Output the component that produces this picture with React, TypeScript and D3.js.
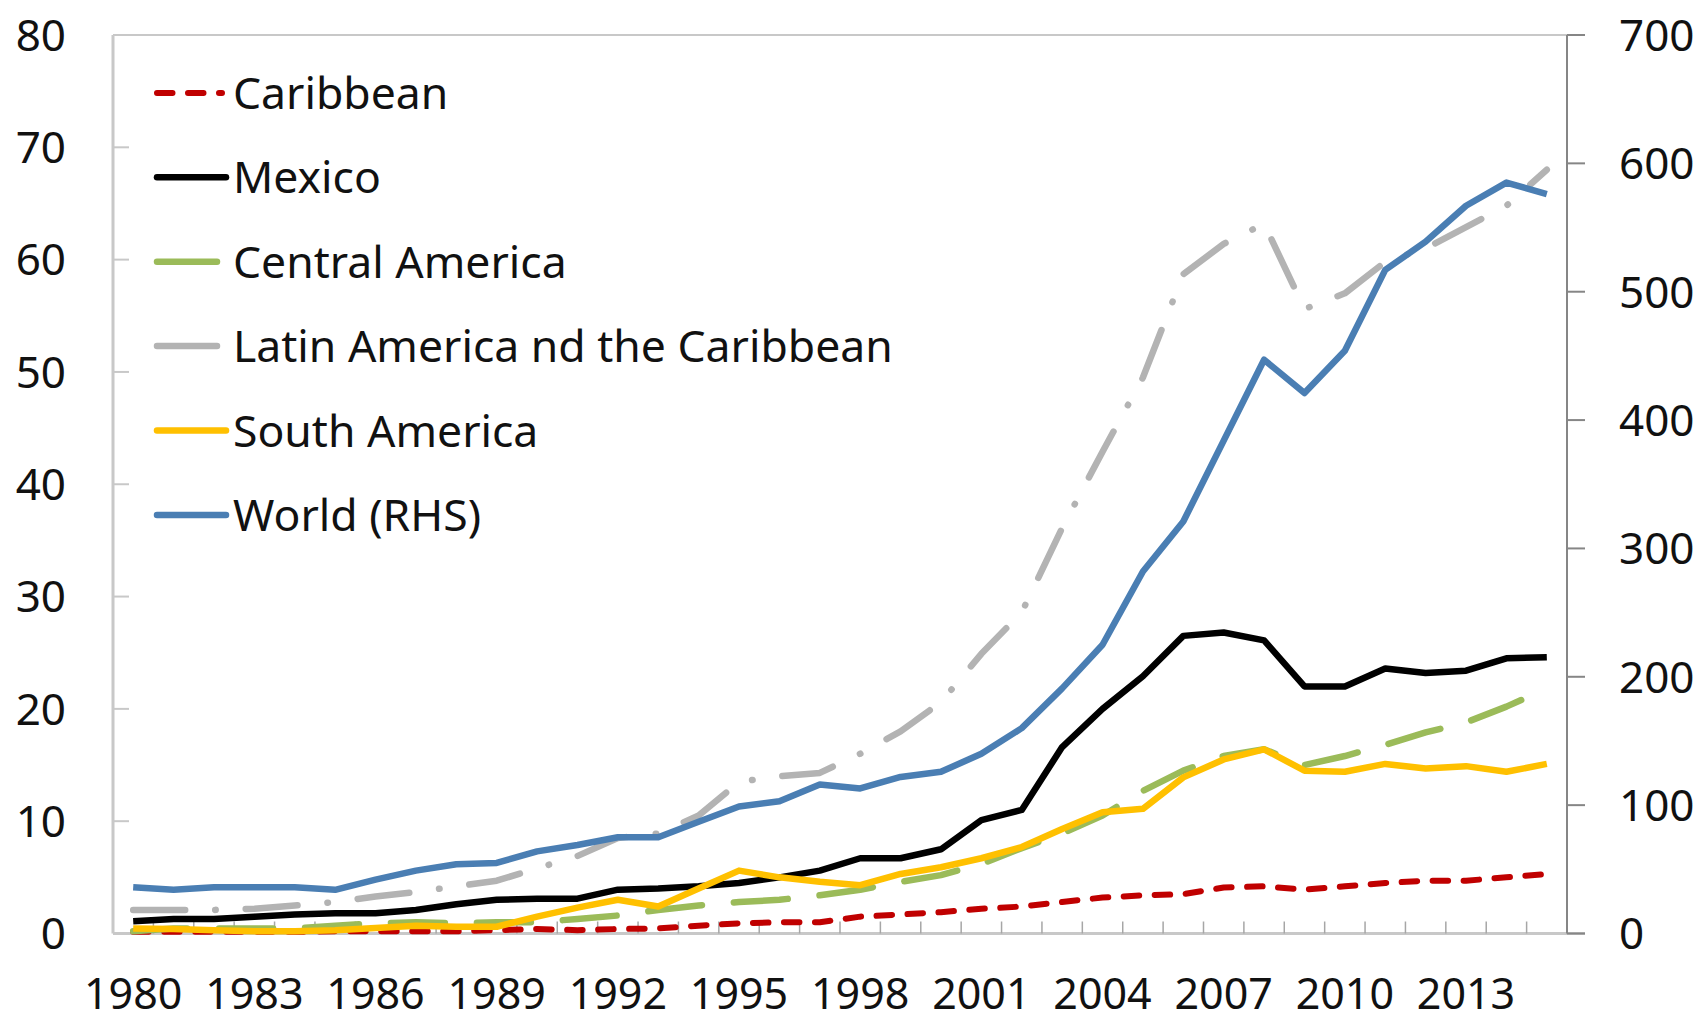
import React from 'react';
import * as d3 from 'd3';

// categories
const years = [
  '1980', '1981', '1982', '1983', '1984', '1985', '1986', '1987', '1988', '1989',
  '1990', '1991', '1992', '1993', '1994', '1995', '1996', '1997', '1998', '1999',
  '2000', '2001', '2002', '2003', '2004', '2005', '2006', '2007', '2008', '2009',
  '2010', '2011', '2012', '2013', '2014', '2015',
];
const yearLabels = ['1980', '1983', '1986', '1989', '1992', '1995', '1998', '2001', '2004', '2007', '2010', '2013'];

// series values (left axis unless noted)
const caribbean = [
  0.15, 0.15, 0.15, 0.15, 0.15, 0.2, 0.2, 0.2, 0.2, 0.3,
  0.4, 0.3, 0.4, 0.45, 0.7, 0.9, 1.0, 1.0, 1.5, 1.7,
  1.9, 2.2, 2.4, 2.8, 3.2, 3.4, 3.5, 4.1, 4.2, 3.9,
  4.2, 4.5, 4.7, 4.7, 5.0, 5.3,
];
const mexico = [
  1.1, 1.3, 1.3, 1.5, 1.7, 1.8, 1.8, 2.1, 2.6, 3.0,
  3.1, 3.1, 3.9, 4.0, 4.2, 4.5, 5.0, 5.6, 6.7, 6.7,
  7.5, 10.1, 11.0, 16.6, 20.0, 22.9, 26.5, 26.8, 26.1, 22.0,
  22.0, 23.6, 23.2, 23.4, 24.5, 24.6,
];
const centralAmerica = [
  0.2, 0.45, 0.45, 0.45, 0.45, 0.7, 0.9, 1.0, 0.9, 1.0,
  1.0, 1.3, 1.6, 2.1, 2.5, 2.8, 3.0, 3.4, 3.9, 4.6,
  5.2, 6.2, 7.6, 8.9, 10.5, 12.7, 14.5, 15.8, 16.4, 15.0,
  15.8, 16.8, 17.9, 18.8, 20.2, 21.8,
];
const latinAmerica = [
  2.1, 2.1, 2.1, 2.2, 2.5, 2.8, 3.3, 3.7, 4.2, 4.7,
  5.8, 6.9, 8.5, 8.9, 10.5, 13.5, 14.0, 14.3, 16.0, 18.0,
  20.6, 24.9, 28.6, 36.1, 42.9, 49.5, 58.7, 61.4, 63.2, 55.6,
  57.0, 59.8, 61.0, 62.9, 64.8, 68.0,
];
const southAmerica = [
  0.45, 0.4, 0.3, 0.2, 0.2, 0.3, 0.5, 0.7, 0.6, 0.6,
  1.5, 2.3, 3.0, 2.4, 4.0, 5.6, 5.0, 4.6, 4.3, 5.3,
  5.9, 6.7, 7.7, 9.3, 10.8, 11.1, 13.9, 15.5, 16.4, 14.5,
  14.4, 15.1, 14.7, 14.9, 14.4, 15.1,
];
// right axis
const world = [
  36, 34, 36, 36, 36, 34, 42, 49, 54, 55,
  64, 69, 75, 75, 87, 99, 103, 116, 113, 122,
  126, 140, 160, 191, 225, 282, 321, 384, 447, 421,
  454, 517, 539, 567, 585, 576,
];

const W = 1698;
const H = 1023;
const left = 113;
const right = 1567;
const top = 35;
const bottom = 933.5;
const font = '"Noto Sans", "Open Sans", sans-serif';

const series = [
  { name: 'Caribbean', values: caribbean, rhs: false, color: '#c00000', width: 6, dash: '15.5 15.5', legendLen: 67 },
  { name: 'Mexico', values: mexico, rhs: false, color: '#000000', width: 6.5, dash: null, legendLen: 71 },
  { name: 'Central America', values: centralAmerica, rhs: false, color: '#9bbb59', width: 6.5, dash: '54 32', legendLen: 62 },
  { name: 'Latin America nd the Caribbean', values: latinAmerica, rhs: false, color: '#b3b3b3', width: 6.5, dash: '52 30 0.5 30', legendLen: 62 },
  { name: 'South America', values: southAmerica, rhs: false, color: '#ffc000', width: 6.5, dash: null, legendLen: 71 },
  { name: 'World (RHS)', values: world, rhs: true, color: '#4a7eb3', width: 6.5, dash: null, legendLen: 71 },
];

export default function App() {
  const x = d3.scaleBand().domain(years).range([left, right]);
  const yL = d3.scaleLinear().domain([0, 80]).range([bottom, top]);
  const yR = d3.scaleLinear().domain([0, 700]).range([bottom, top]);
  const cx = (i: number) => (x(years[i]) as number) + x.bandwidth() / 2;

  const boundaries = years.map((y) => x(y) as number).slice(1);

  return (
    <svg width={W} height={H} style={{ position: 'absolute', left: 0, top: 0, background: '#fff' }}>
      <rect x={0} y={0} width={W} height={H} fill="#fff" />

      {/* frame */}
      <line x1={left} x2={right} y1={top} y2={top} stroke="#c8c8c8" strokeWidth={2} />
      <line x1={left} x2={left} y1={top} y2={bottom} stroke="#c8c8c8" strokeWidth={3} />
      <line x1={left} x2={right + 18} y1={bottom} y2={bottom} stroke="#c8c8c8" strokeWidth={3} />
      <line x1={right} x2={right} y1={top} y2={bottom} stroke="#868686" strokeWidth={2} />

      {/* bottom ticks */}
      {boundaries.map((b, i) => (
        <line key={i} x1={b} x2={b} y1={bottom} y2={bottom - 12} stroke="#a6a6a6" strokeWidth={1.5} />
      ))}

      {/* left axis */}
      {yL.ticks(8).map((t) => (
        <g key={t}>
          <line x1={left} x2={left + 16} y1={yL(t)} y2={yL(t)} stroke="#c8c8c8" strokeWidth={2} />
          <text x={66} y={yL(t)} dy="0.36em" textAnchor="end" fontFamily={font} fontSize={44} fill="#111">
            {t}
          </text>
        </g>
      ))}

      {/* right axis */}
      {yR.ticks(7).map((t) => (
        <g key={t}>
          <line x1={right} x2={right + 18} y1={yR(t)} y2={yR(t)} stroke="#868686" strokeWidth={2} />
          <text x={1619} y={yR(t)} dy="0.36em" textAnchor="start" fontFamily={font} fontSize={44} fill="#111">
            {t}
          </text>
        </g>
      ))}

      {/* x labels */}
      {yearLabels.map((yr) => (
        <text key={yr} x={(x(yr) as number) + x.bandwidth() / 2} y={1009} textAnchor="middle" fontFamily={font} fontSize={43} fill="#111">
          {yr}
        </text>
      ))}

      {/* lines */}
      {series.map((s) => {
        const yScale = s.rhs ? yR : yL;
        const path = d3.line<number>().x((_, i) => cx(i)).y((d) => yScale(d))(s.values) as string;
        return (
          <path
            key={s.name}
            d={path}
            fill="none"
            stroke={s.color}
            strokeWidth={s.width}
            strokeDasharray={s.dash ?? undefined}
            strokeLinecap={s.dash ? 'round' : 'butt'}
            strokeLinejoin="round"
          />
        );
      })}

      {/* legend */}
      {series.map((s, i) => {
        const ly = 92.9 + i * 84.4;
        const ldash = s.name === 'Caribbean' ? '15.5 15.5' : undefined;
        return (
          <g key={s.name}>
            <line
              x1={157}
              x2={157 + s.legendLen - 2}
              y1={ly}
              y2={ly}
              stroke={s.color}
              strokeWidth={s.width}
              strokeLinecap="round"
              strokeDasharray={ldash}
            />
            <text x={233} y={ly} dy="0.36em" fontFamily={font} fontSize={44.5} fill="#111">
              {s.name}
            </text>
          </g>
        );
      })}
    </svg>
  );
}
